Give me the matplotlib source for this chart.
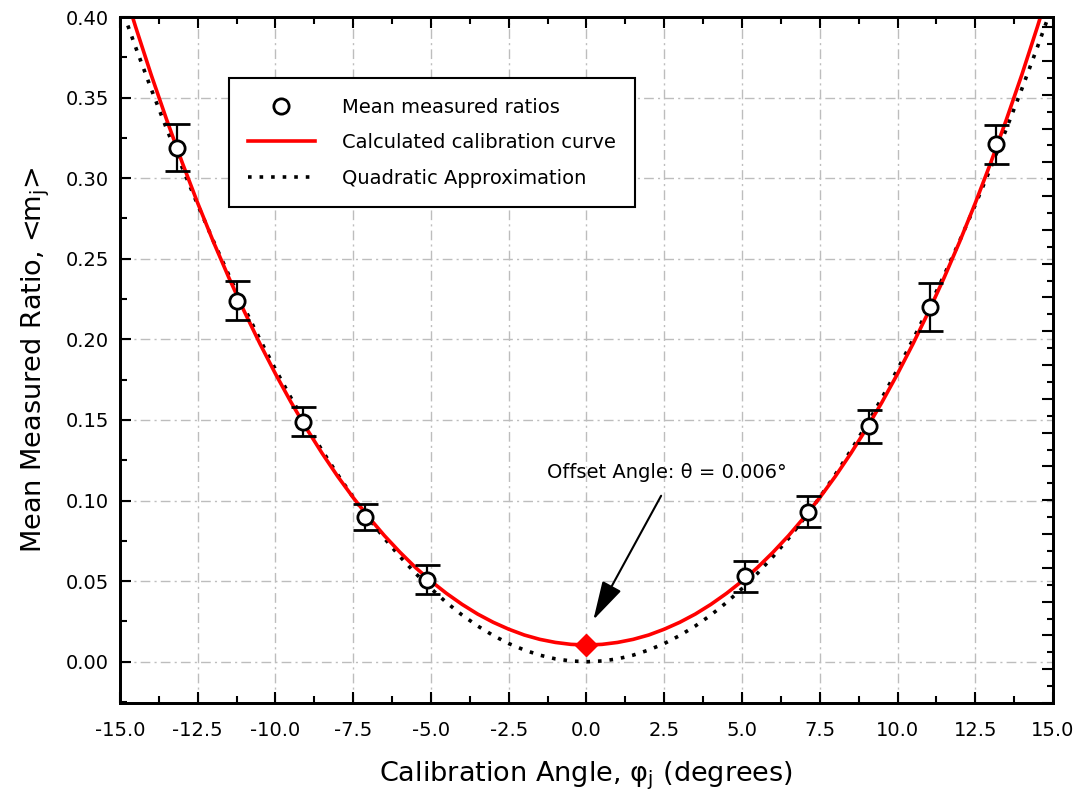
import numpy as np
import matplotlib.pyplot as plt
from matplotlib.lines import Line2D
from matplotlib.ticker import MultipleLocator, FormatStrFormatter

plt.rcParams['font.family'] = ['DejaVu Sans']
plt.rcParams['mathtext.fontset'] = 'dejavusans'

# Measured points (angle in degrees, mean ratio, error)
angle = [-13.18, -11.23, -9.12, -7.13, -5.14, 5.09, 7.13, 9.08, 11.03, 13.17]
ratio = [0.319, 0.224, 0.149, 0.090, 0.051, 0.053, 0.093, 0.146, 0.220, 0.321]
ratio_err = [0.0145, 0.012, 0.009, 0.008, 0.009, 0.0095, 0.0097, 0.010, 0.015, 0.0123]

# Curves every half degree (0 .. 15, mirrored)
half_x = [0.0, 0.5, 1.0, 1.5, 2.0, 2.5, 3.0, 3.5, 4.0, 4.5, 5.0, 5.5, 6.0, 6.5, 7.0, 7.5,
          8.0, 8.5, 9.0, 9.5, 10.0, 10.5, 11.0, 11.5, 12.0, 12.5, 13.0, 13.5, 14.0, 14.5, 15.0]
calib_half = [0.0104, 0.0108, 0.0120, 0.0139, 0.0166, 0.0202, 0.0245, 0.0296, 0.0356,
              0.0424, 0.0500, 0.0585, 0.0680, 0.0783, 0.0896, 0.1018, 0.1150, 0.1293,
              0.1446, 0.1610, 0.1786, 0.1973, 0.2172, 0.2383, 0.2607, 0.2845, 0.3097,
              0.3363, 0.3643, 0.3940, 0.4252]
quad_half = [0.0, 0.0005, 0.0018, 0.0041, 0.0073, 0.0113, 0.0163, 0.0222, 0.0290,
             0.0367, 0.0454, 0.0549, 0.0653, 0.0766, 0.0889, 0.1020, 0.1161, 0.1311,
             0.1469, 0.1637, 0.1814, 0.2000, 0.2195, 0.2399, 0.2612, 0.2834, 0.3066,
             0.3306, 0.3555, 0.3814, 0.4082]
curve_x = [-v for v in half_x[:0:-1]] + half_x
calib_curve = calib_half[:0:-1] + calib_half
quad_curve = quad_half[:0:-1] + quad_half

offset_x = 0.0
offset_y = 0.0104

fig = plt.figure(figsize=(10.82, 8.02), dpi=100)
ax = fig.add_axes([0.1109, 0.1234, 0.8623, 0.8554])

ax.plot(curve_x, quad_curve, color='black', lw=2.6, linestyle=(0, (1, 2.2)), zorder=3)
ax.plot(curve_x, calib_curve, color='#ff0000', lw=2.6, zorder=4)
ax.errorbar(angle, ratio, yerr=ratio_err, fmt='o', ms=11, mfc='white', mec='black',
            mew=2, ecolor='black', elinewidth=1.6, capsize=9, capthick=1.6, zorder=5)
ax.plot([offset_x], [offset_y], 'D', color='#ff0000', ms=11, zorder=6)

# annotation text and arrow
ax.text(2.57, 0.1175, 'Offset Angle: θ = 0.006°', fontsize=14, ha='center', va='center')
ax.annotate('', xy=(0.22, 0.026), xytext=(2.4, 0.103),
            arrowprops=dict(arrowstyle='-|>,head_length=1.1,head_width=0.3',
                            color='black', lw=1.5, mutation_scale=22,
                            shrinkA=0, shrinkB=0))

ax.set_xlim(-15, 15)
ax.set_ylim(-0.0256, 0.40)
ax.xaxis.set_major_locator(MultipleLocator(2.5))
ax.xaxis.set_minor_locator(MultipleLocator(1.25))
ax.yaxis.set_major_locator(MultipleLocator(0.05))
ax.yaxis.set_minor_locator(MultipleLocator(0.025))
ax.xaxis.set_major_formatter(FormatStrFormatter('%.1f'))
ax.yaxis.set_major_formatter(FormatStrFormatter('%.2f'))
ax.tick_params(which='both', direction='in', top=True, right=False, width=1.5,
               labelsize=14)
ax.tick_params(which='major', length=8)
ax.tick_params(which='minor', length=5)
ax.tick_params(axis='x', pad=13)
ax.tick_params(axis='y', pad=8)
for s in ax.spines.values():
    s.set_linewidth(2)

ax.grid(True, which='major', color='#bdbdbd', lw=1, linestyle=(0, (7, 3, 1.5, 3)))
ax.set_axisbelow(True)

ax.set_xlabel('Calibration Angle, φ$_\\mathregular{j}$ (degrees)', fontsize=19.5, labelpad=14)
ax.set_ylabel('Mean Measured Ratio, <m$_\\mathregular{j}$>', fontsize=19.5, labelpad=10)

# right side ticks (no labels)
ax2 = ax.twinx()
ax2.set_ylim(0, 20.3)
ax2.yaxis.set_major_locator(MultipleLocator(1))
ax2.yaxis.set_minor_locator(MultipleLocator(0.5))
ax2.tick_params(which='both', direction='in', labelright=False, width=1.5)
ax2.tick_params(which='major', length=8)
ax2.tick_params(which='minor', length=4)
for s in ax2.spines.values():
    s.set_linewidth(2)

handles = [
    Line2D([], [], ls='none', marker='o', ms=11, mfc='white', mec='black', mew=2),
    Line2D([], [], color='#ff0000', lw=2.6),
    Line2D([], [], color='black', lw=2.6, linestyle=(0, (1, 2.2))),
]
labels = ['Mean measured ratios', 'Calculated calibration curve', 'Quadratic Approximation']
leg = ax2.legend(handles, labels, loc='upper left', bbox_to_anchor=(0.1168, 0.911),
                 borderaxespad=0, fontsize=14, fancybox=False, framealpha=1,
                 edgecolor='black', handlelength=3.4, handletextpad=1.4,
                 labelspacing=0.85, borderpad=1.0)
leg.get_frame().set_linewidth(1.5)

fig.savefig('out.png', dpi=100)
